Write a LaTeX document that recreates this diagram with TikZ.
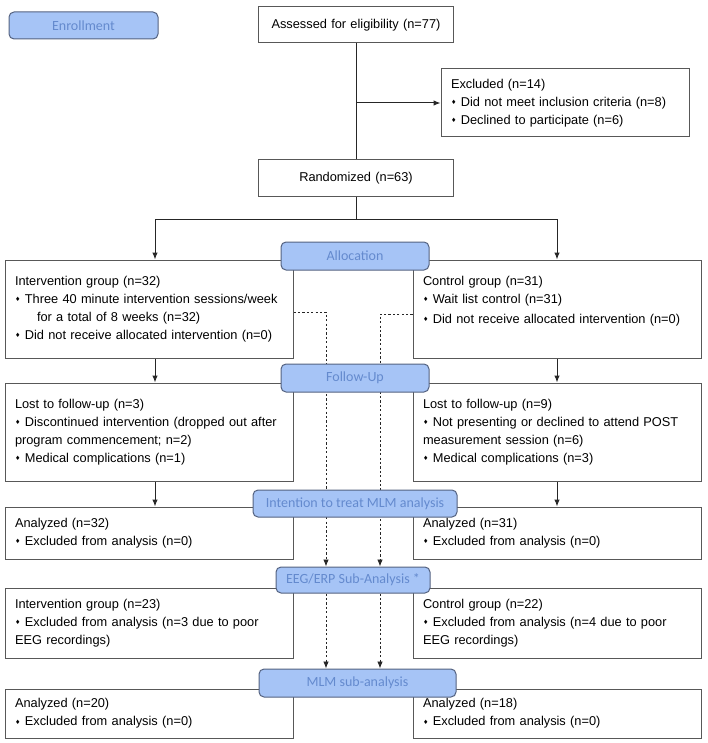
\documentclass[tikz,border=0pt]{standalone}
\usepackage{fontspec}
\setmainfont{Liberation Sans}
\newfontfamily\calfont{Carlito}
\newfontfamily\symfont{DejaVu Sans}
\usetikzlibrary{arrows.meta}
\definecolor{lab_fill}{RGB}{166, 196, 246}
\definecolor{lab_draw}{RGB}{84, 98, 128}
\definecolor{lab_text}{RGB}{100, 138, 206}
\definecolor{box_draw}{RGB}{88, 88, 88}
\tikzstyle{lab}=[rectangle,rounded corners=5pt,fill=lab_fill,draw=lab_draw,
  line width=1pt,text=lab_text,font=\calfont\fontsize{14}{16}\selectfont,
  inner sep=0pt,minimum height=27pt]
\tikzstyle{box}=[rectangle,draw=box_draw,fill=white,line width=1pt,align=left,
  font=\fontsize{12.8}{18}\selectfont,inner xsep=10pt,inner ysep=0pt,text width=268pt]
\tikzstyle{cbox}=[box,align=center,text width=175pt]
\tikzstyle{arr}=[line width=1pt,draw=black!85,-{Latex[length=7pt,width=5.5pt]}]
\tikzstyle{dsh}=[arr,line width=0.8pt,dash pattern=on 2.2pt off 2.2pt]
\newcommand{\bul}{{\symfont\fontsize{6}{6}\selectfont\raisebox{1.8pt}{♦}}\hspace{4.5pt}}
\pgfdeclarelayer{bg}
\pgfsetlayers{bg,main}

\begin{document}
\begin{tikzpicture}[x=1pt,y=-1pt]
    \useasboundingbox (0, 0) rectangle (708, 743);
    \node [style=cbox, minimum height=36pt] (ass) at (356, 25) {Assessed for eligibility (n=77)};
    \node [style=box, text width=228pt, minimum height=68pt] (exc) at (565, 103)
        {Excluded (n=14)\\ \bul Did not meet inclusion criteria (n=8)\\ \bul Declined to participate (n=6)};
    \node [style=cbox, minimum height=37pt] (ran) at (356, 178.5) {Randomized (n=63)};
    \coordinate (fork) at (356, 219);
    % allocation
    \node [style=box, minimum height=98pt] (b1l) at (149, 309)
        {Intervention group (n=32)\\ \bul Three 40 minute intervention sessions/week\\
        \hspace*{22pt}for a total of 8 weeks (n=32)\\ \bul Did not receive allocated intervention (n=0)};
    \node [style=box, minimum height=98pt] (b1r) at (557, 309)
        {Control group (n=31)\\ \bul Wait list control (n=31)\\[2pt]
        \bul Did not receive allocated intervention (n=0)\\ \mbox{}};
    % follow-up
    \node [style=box, minimum height=98pt] (b2l) at (149, 432)
        {Lost to follow-up (n=3)\\ \bul Discontinued intervention (dropped out after\\
        program commencement; n=2)\\ \bul Medical complications (n=1)};
    \node [style=box, minimum height=98pt] (b2r) at (557, 432)
        {Lost to follow-up (n=9)\\ \bul Not presenting or declined to attend POST\\
        measurement session (n=6)\\ \bul Medical complications (n=3)};
    % analysis
    \node [style=box, minimum height=52pt] (b3l) at (149, 533)
        {Analyzed (n=32)\\ \bul Excluded from analysis (n=0)};
    \node [style=box, minimum height=52pt] (b3r) at (557, 533)
        {Analyzed (n=31)\\ \bul Excluded from analysis (n=0)};
    \node [style=box, minimum height=70pt] (b4l) at (149, 623)
        {Intervention group (n=23)\\ \bul Excluded from analysis (n=3 due to poor\\ EEG recordings)};
    \node [style=box, minimum height=70pt] (b4r) at (557, 623)
        {Control group (n=22)\\ \bul Excluded from analysis (n=4 due to poor\\ EEG recordings)};
    \node [style=box, minimum height=49pt] (b5l) at (149, 713.5)
        {Analyzed (n=20)\\ \bul Excluded from analysis (n=0)};
    \node [style=box, minimum height=49pt] (b5r) at (557, 713.5)
        {Analyzed (n=18)\\ \bul Excluded from analysis (n=0)};
    % stage labels
    \node [style=lab, minimum width=149pt] (enr) at (83.5, 25.5) {Enrollment};
    \node [style=lab, minimum width=148pt, minimum height=28pt] (alloc) at (355, 256) {Allocation};
    \node [style=lab, minimum width=148pt, minimum height=28pt] (fup) at (355, 378) {Follow-Up};
    \node [style=lab, minimum width=204pt] (itt) at (355, 503.5) {Intention to treat MLM analysis};
    \node [style=lab, minimum width=154pt, minimum height=26pt] (eeg) at (353, 580) {EEG/ERP Sub-Analysis *};
    \node [style=lab, minimum width=197pt, minimum height=28pt] (mlm) at (357.5, 683) {MLM sub-analysis};
    \begin{pgfonlayer}{bg}
    \draw [line width=1pt, draw=black!85] (ass.south) to (ran.north);
    \draw [style=arr] (ass.south |- exc.west) to (exc.west);
    \draw [line width=1pt, draw=black!85] (ran.south) to (fork);
    \draw [style=arr] (fork) -| ([xshift=6pt]b1l.north);
    \draw [style=arr] (fork) -| (b1r.north);
    \draw [style=arr] ([xshift=6pt]b1l.south) to ([xshift=6pt]b2l.north);
    \draw [style=arr] (b1r.south) to (b2r.north);
    \draw [style=arr] ([xshift=6pt]b2l.south) to ([xshift=6pt]b3l.north);
    \draw [style=arr] (b2r.south) to (b3r.north);
    \draw [style=dsh] ([yshift=-3pt]b1l.east) -| ([xshift=-27pt]eeg.north);
    \draw [style=dsh] ([yshift=-5pt]b1r.west) -| ([xshift=27pt]eeg.north);
    \draw [style=dsh] ([xshift=-27pt]eeg.south) to ([xshift=-27pt]eeg.south |- mlm.north);
    \draw [style=dsh] ([xshift=27pt]eeg.south) to ([xshift=27pt]eeg.south |- mlm.north);
    \end{pgfonlayer}
\end{tikzpicture}
\end{document}
